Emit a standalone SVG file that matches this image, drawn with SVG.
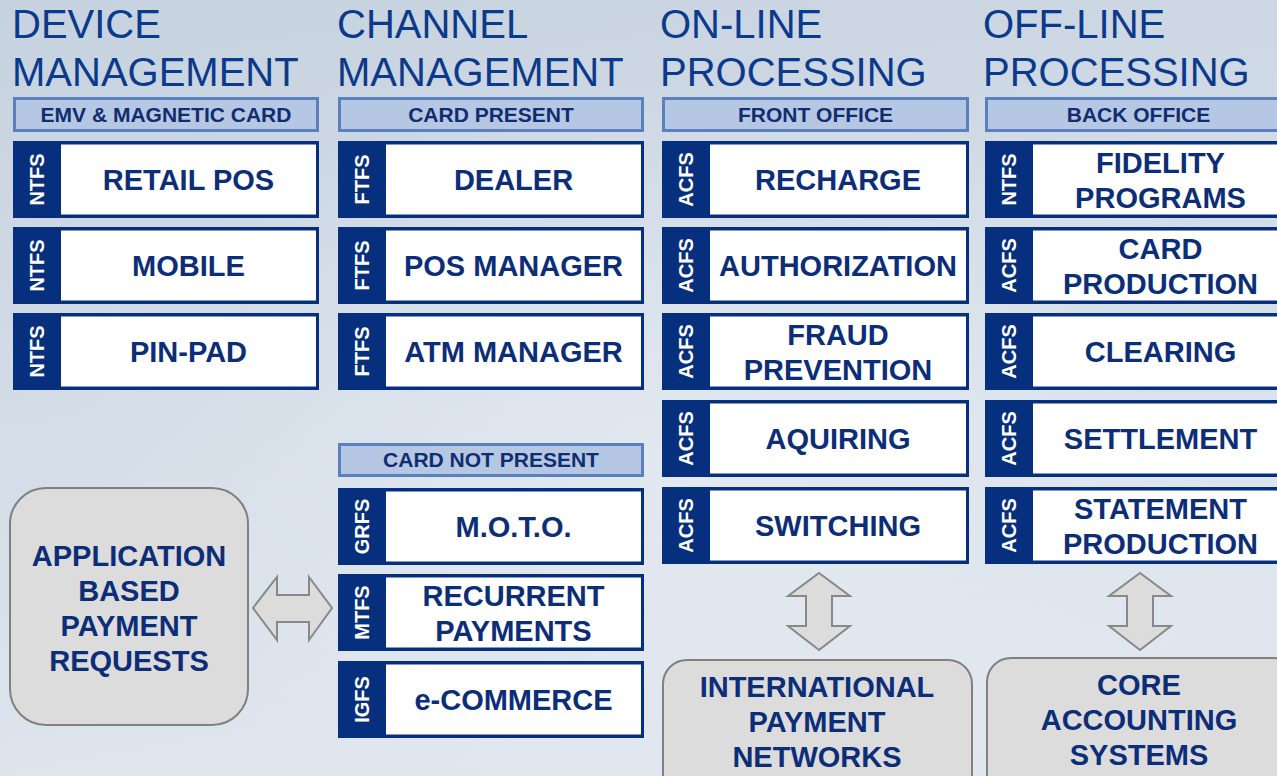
<svg xmlns="http://www.w3.org/2000/svg" width="1277" height="776" viewBox="0 0 1277 776">
<defs>
<linearGradient id="bg" x1="0" y1="0" x2="0.3" y2="1">
<stop offset="0" stop-color="#c6d2df"/>
<stop offset="0.5" stop-color="#d3dce7"/>
<stop offset="1" stop-color="#dfe6ee"/>
</linearGradient>
<radialGradient id="glow" cx="0.55" cy="0.6" r="0.5">
<stop offset="0" stop-color="#e6ecf3" stop-opacity="0.7"/>
<stop offset="1" stop-color="#e6ecf3" stop-opacity="0"/>
</radialGradient>
<style>
.title{font-family:"Liberation Sans",Arial,sans-serif;font-size:40px;fill:#0b3a8c}
.hdr rect{fill:#b6c7e4;stroke:#5b80c0;stroke-width:3}
.hdr text{font-family:"Liberation Sans",Arial,sans-serif;font-size:21px;font-weight:bold;fill:#102d70;text-anchor:middle}
.node .tab{fill:#06307e}
.node .box{fill:#ffffff}
.node .code{font-family:"Liberation Sans",Arial,sans-serif;font-size:20px;font-weight:bold;fill:#ffffff;text-anchor:middle}
.node .lbl{font-family:"Liberation Sans",Arial,sans-serif;font-size:29px;font-weight:bold;fill:#0c2d77;text-anchor:middle}
.ext rect{fill:#dcdcdc;stroke:#808080;stroke-width:2}
.ext text{font-family:"Liberation Sans",Arial,sans-serif;font-size:29px;font-weight:bold;fill:#0c2d77;text-anchor:middle}
.arrow{fill:#dcdcdc;stroke:#888888;stroke-width:2;stroke-linejoin:miter}
</style>
</defs>
<rect x="0" y="0" width="1277" height="776" fill="url(#bg)"/>
<rect x="0" y="0" width="1277" height="776" fill="url(#glow)"/>

<!-- Titles -->
<g id="titles">
<text class="title" x="12" y="38">DEVICE</text>
<text class="title" x="12" y="86">MANAGEMENT</text>
<text class="title" x="337" y="38">CHANNEL</text>
<text class="title" x="337" y="86">MANAGEMENT</text>
<text class="title" x="660" y="38">ON-LINE</text>
<text class="title" x="660" y="86">PROCESSING</text>
<text class="title" x="983" y="38">OFF-LINE</text>
<text class="title" x="983" y="86">PROCESSING</text>
</g>

<!-- Header bars -->
<g id="hdr-emv" class="hdr"><rect x="14.5" y="98.5" width="303" height="32"/><text x="166" y="122">EMV &amp; MAGNETIC CARD</text></g>
<g id="hdr-cp" class="hdr"><rect x="339.5" y="98.5" width="303" height="32"/><text x="491" y="122">CARD PRESENT</text></g>
<g id="hdr-fo" class="hdr"><rect x="663.5" y="98.5" width="304" height="32"/><text x="815.5" y="122">FRONT OFFICE</text></g>
<g id="hdr-bo" class="hdr"><rect x="986.5" y="98.5" width="304" height="32"/><text x="1138.5" y="122">BACK OFFICE</text></g>
<g id="hdr-cnp" class="hdr"><rect x="339.5" y="444.5" width="303" height="31"/><text x="491" y="467">CARD NOT PRESENT</text></g>

<!-- Column 1 -->
<g id="n-retail-pos" class="node"><rect class="tab" x="13" y="141" width="306" height="77"/><rect class="box" x="61" y="144.5" width="255" height="70"/><text class="code" transform="translate(37,179.5) rotate(-90)" y="7">NTFS</text><text class="lbl" x="188.5" y="190">RETAIL POS</text></g>
<g id="n-mobile" class="node"><rect class="tab" x="13" y="227" width="306" height="77"/><rect class="box" x="61" y="230.5" width="255" height="70"/><text class="code" transform="translate(37,265.5) rotate(-90)" y="7">NTFS</text><text class="lbl" x="188.5" y="276">MOBILE</text></g>
<g id="n-pin-pad" class="node"><rect class="tab" x="13" y="313" width="306" height="77"/><rect class="box" x="61" y="316.5" width="255" height="70"/><text class="code" transform="translate(37,351.5) rotate(-90)" y="7">NTFS</text><text class="lbl" x="188.5" y="362">PIN-PAD</text></g>

<!-- Column 2 -->
<g id="n-dealer" class="node"><rect class="tab" x="338" y="141" width="306" height="77"/><rect class="box" x="386" y="144.5" width="255" height="70"/><text class="code" transform="translate(362,179.5) rotate(-90)" y="7">FTFS</text><text class="lbl" x="513.5" y="190">DEALER</text></g>
<g id="n-pos-manager" class="node"><rect class="tab" x="338" y="227" width="306" height="77"/><rect class="box" x="386" y="230.5" width="255" height="70"/><text class="code" transform="translate(362,265.5) rotate(-90)" y="7">FTFS</text><text class="lbl" x="513.5" y="276">POS MANAGER</text></g>
<g id="n-atm-manager" class="node"><rect class="tab" x="338" y="313" width="306" height="77"/><rect class="box" x="386" y="316.5" width="255" height="70"/><text class="code" transform="translate(362,351.5) rotate(-90)" y="7">FTFS</text><text class="lbl" x="513.5" y="362">ATM MANAGER</text></g>
<g id="n-moto" class="node"><rect class="tab" x="338" y="488" width="306" height="77"/><rect class="box" x="386" y="491.5" width="255" height="70"/><text class="code" transform="translate(362,526.5) rotate(-90)" y="7">GRFS</text><text class="lbl" x="513.5" y="537">M.O.T.O.</text></g>
<g id="n-recurrent" class="node"><rect class="tab" x="338" y="574" width="306" height="77"/><rect class="box" x="386" y="577.5" width="255" height="70"/><text class="code" transform="translate(362,612.5) rotate(-90)" y="7">MTFS</text><text class="lbl" x="513.5" y="605.5">RECURRENT</text><text class="lbl" x="513.5" y="640.5">PAYMENTS</text></g>
<g id="n-ecommerce" class="node"><rect class="tab" x="338" y="661" width="306" height="77"/><rect class="box" x="386" y="664.5" width="255" height="70"/><text class="code" transform="translate(362,699.5) rotate(-90)" y="7">IGFS</text><text class="lbl" x="513.5" y="710">e-COMMERCE</text></g>

<!-- Column 3 -->
<g id="n-recharge" class="node"><rect class="tab" x="662" y="141" width="307" height="77"/><rect class="box" x="710" y="144.5" width="256" height="70"/><text class="code" transform="translate(686,179.5) rotate(-90)" y="7">ACFS</text><text class="lbl" x="838" y="190">RECHARGE</text></g>
<g id="n-authorization" class="node"><rect class="tab" x="662" y="227" width="307" height="77"/><rect class="box" x="710" y="230.5" width="256" height="70"/><text class="code" transform="translate(686,265.5) rotate(-90)" y="7">ACFS</text><text class="lbl" x="838" y="276">AUTHORIZATION</text></g>
<g id="n-fraud" class="node"><rect class="tab" x="662" y="313" width="307" height="77"/><rect class="box" x="710" y="316.5" width="256" height="70"/><text class="code" transform="translate(686,351.5) rotate(-90)" y="7">ACFS</text><text class="lbl" x="838" y="344.5">FRAUD</text><text class="lbl" x="838" y="379.5">PREVENTION</text></g>
<g id="n-aquiring" class="node"><rect class="tab" x="662" y="400" width="307" height="77"/><rect class="box" x="710" y="403.5" width="256" height="70"/><text class="code" transform="translate(686,438.5) rotate(-90)" y="7">ACFS</text><text class="lbl" x="838" y="449">AQUIRING</text></g>
<g id="n-switching" class="node"><rect class="tab" x="662" y="487" width="307" height="77"/><rect class="box" x="710" y="490.5" width="256" height="70"/><text class="code" transform="translate(686,525.5) rotate(-90)" y="7">ACFS</text><text class="lbl" x="838" y="536">SWITCHING</text></g>

<!-- Column 4 -->
<g id="n-fidelity" class="node"><rect class="tab" x="985" y="141" width="310" height="77"/><rect class="box" x="1033" y="144.5" width="259" height="70"/><text class="code" transform="translate(1009,179.5) rotate(-90)" y="7">NTFS</text><text class="lbl" x="1160.5" y="172.5">FIDELITY</text><text class="lbl" x="1160.5" y="207.5">PROGRAMS</text></g>
<g id="n-card-production" class="node"><rect class="tab" x="985" y="227" width="310" height="77"/><rect class="box" x="1033" y="230.5" width="259" height="70"/><text class="code" transform="translate(1009,265.5) rotate(-90)" y="7">ACFS</text><text class="lbl" x="1160.5" y="258.5">CARD</text><text class="lbl" x="1160.5" y="293.5">PRODUCTION</text></g>
<g id="n-clearing" class="node"><rect class="tab" x="985" y="313" width="310" height="77"/><rect class="box" x="1033" y="316.5" width="259" height="70"/><text class="code" transform="translate(1009,351.5) rotate(-90)" y="7">ACFS</text><text class="lbl" x="1160.5" y="362">CLEARING</text></g>
<g id="n-settlement" class="node"><rect class="tab" x="985" y="400" width="310" height="77"/><rect class="box" x="1033" y="403.5" width="259" height="70"/><text class="code" transform="translate(1009,438.5) rotate(-90)" y="7">ACFS</text><text class="lbl" x="1160.5" y="449">SETTLEMENT</text></g>
<g id="n-statement" class="node"><rect class="tab" x="985" y="487" width="310" height="77"/><rect class="box" x="1033" y="490.5" width="259" height="70"/><text class="code" transform="translate(1009,525.5) rotate(-90)" y="7">ACFS</text><text class="lbl" x="1160.5" y="518.5">STATEMENT</text><text class="lbl" x="1160.5" y="553.5">PRODUCTION</text></g>

<!-- External boxes -->
<g id="n-application" class="ext"><rect x="10" y="488" width="238" height="237" rx="36" ry="36"/><text x="129" y="566">APPLICATION</text><text x="129" y="601">BASED</text><text x="129" y="636">PAYMENT</text><text x="129" y="671">REQUESTS</text></g>
<g id="n-international" class="ext"><rect x="663" y="660" width="309" height="140" rx="24" ry="24"/><text x="817" y="697">INTERNATIONAL</text><text x="817" y="732">PAYMENT</text><text x="817" y="767">NETWORKS</text></g>
<g id="n-core" class="ext"><rect x="987" y="658" width="310" height="140" rx="24" ry="24"/><text x="1139" y="695">CORE</text><text x="1139" y="730">ACCOUNTING</text><text x="1139" y="765">SYSTEMS</text></g>

<!-- Connectors -->
<g id="connectors">
<path class="arrow" d="M253,608 L277,577 L277,595 L309,595 L309,577 L332,608 L309,640 L309,622 L277,622 L277,640 Z"/>
<path class="arrow" d="M819,573 L850,596 L832,596 L832,626 L850,626 L819,650 L788,626 L806,626 L806,596 L788,596 Z"/>
<path class="arrow" d="M1140,573 L1171,596 L1153,596 L1153,626 L1171,626 L1140,650 L1109,626 L1127,626 L1127,596 L1109,596 Z"/>
</g>
</svg>
